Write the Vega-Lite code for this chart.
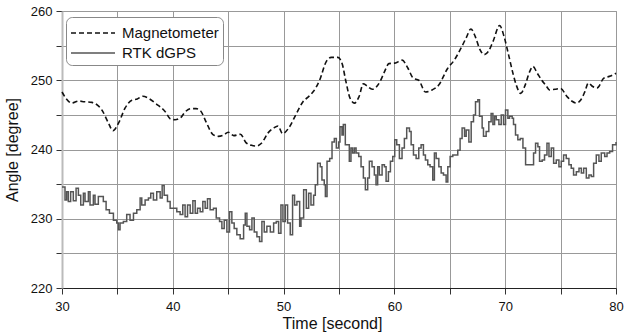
{
  "$schema": "https://vega.github.io/schema/vega-lite/v6.json",
  "width": 554,
  "height": 277,
  "autosize": "none",
  "padding": {"left": 62, "top": 11, "right": 8, "bottom": 48},
  "background": "white",
  "config": {
    "font": "Liberation Sans",
    "view": {"stroke": "#999", "strokeWidth": 1},
    "axis": {
      "gridColor": "#999", "gridWidth": 1, "gridOpacity": 1,
      "tickColor": "#333", "tickSize": 6,
      "labelFont": "Liberation Sans", "labelFontSize": 13, "labelColor": "#111",
      "titleFont": "Liberation Sans", "titleFontSize": 16, "titleFontWeight": "normal", "titleColor": "#111"
    }
  },
  "data": {
    "values": [
      {"t":30.0,"angle":248.3,"sensor":"Magnetometer"},
      {"t":30.4,"angle":247.3,"sensor":"Magnetometer"},
      {"t":30.87,"angle":246.7,"sensor":"Magnetometer"},
      {"t":31.5,"angle":247.0,"sensor":"Magnetometer"},
      {"t":32.0,"angle":246.9,"sensor":"Magnetometer"},
      {"t":32.7,"angle":246.8,"sensor":"Magnetometer"},
      {"t":33.2,"angle":246.4,"sensor":"Magnetometer"},
      {"t":33.6,"angle":245.7,"sensor":"Magnetometer"},
      {"t":34.2,"angle":243.8,"sensor":"Magnetometer"},
      {"t":34.6,"angle":242.7,"sensor":"Magnetometer"},
      {"t":35.1,"angle":243.8,"sensor":"Magnetometer"},
      {"t":35.7,"angle":246.0,"sensor":"Magnetometer"},
      {"t":36.3,"angle":247.1,"sensor":"Magnetometer"},
      {"t":36.8,"angle":247.3,"sensor":"Magnetometer"},
      {"t":37.3,"angle":247.7,"sensor":"Magnetometer"},
      {"t":37.8,"angle":247.4,"sensor":"Magnetometer"},
      {"t":38.5,"angle":246.6,"sensor":"Magnetometer"},
      {"t":39.3,"angle":245.5,"sensor":"Magnetometer"},
      {"t":39.8,"angle":244.4,"sensor":"Magnetometer"},
      {"t":40.2,"angle":244.3,"sensor":"Magnetometer"},
      {"t":40.7,"angle":244.6,"sensor":"Magnetometer"},
      {"t":41.1,"angle":245.4,"sensor":"Magnetometer"},
      {"t":41.6,"angle":245.9,"sensor":"Magnetometer"},
      {"t":42.1,"angle":245.9,"sensor":"Magnetometer"},
      {"t":42.5,"angle":245.6,"sensor":"Magnetometer"},
      {"t":43.0,"angle":244.0,"sensor":"Magnetometer"},
      {"t":43.6,"angle":242.2,"sensor":"Magnetometer"},
      {"t":44.1,"angle":241.9,"sensor":"Magnetometer"},
      {"t":44.6,"angle":242.1,"sensor":"Magnetometer"},
      {"t":45.0,"angle":242.5,"sensor":"Magnetometer"},
      {"t":45.5,"angle":242.0,"sensor":"Magnetometer"},
      {"t":46.1,"angle":242.2,"sensor":"Magnetometer"},
      {"t":46.6,"angle":241.0,"sensor":"Magnetometer"},
      {"t":47.1,"angle":240.6,"sensor":"Magnetometer"},
      {"t":47.5,"angle":240.5,"sensor":"Magnetometer"},
      {"t":48.0,"angle":240.9,"sensor":"Magnetometer"},
      {"t":48.6,"angle":242.4,"sensor":"Magnetometer"},
      {"t":49.1,"angle":243.1,"sensor":"Magnetometer"},
      {"t":49.5,"angle":243.4,"sensor":"Magnetometer"},
      {"t":49.9,"angle":242.3,"sensor":"Magnetometer"},
      {"t":50.5,"angle":243.2,"sensor":"Magnetometer"},
      {"t":51.1,"angle":245.0,"sensor":"Magnetometer"},
      {"t":51.75,"angle":246.9,"sensor":"Magnetometer"},
      {"t":52.3,"angle":247.7,"sensor":"Magnetometer"},
      {"t":52.7,"angle":248.4,"sensor":"Magnetometer"},
      {"t":53.25,"angle":250.0,"sensor":"Magnetometer"},
      {"t":53.85,"angle":252.7,"sensor":"Magnetometer"},
      {"t":54.3,"angle":253.3,"sensor":"Magnetometer"},
      {"t":54.9,"angle":253.3,"sensor":"Magnetometer"},
      {"t":55.3,"angle":252.3,"sensor":"Magnetometer"},
      {"t":55.6,"angle":250.0,"sensor":"Magnetometer"},
      {"t":56.0,"angle":247.4,"sensor":"Magnetometer"},
      {"t":56.4,"angle":246.7,"sensor":"Magnetometer"},
      {"t":56.8,"angle":247.6,"sensor":"Magnetometer"},
      {"t":57.2,"angle":249.5,"sensor":"Magnetometer"},
      {"t":57.5,"angle":249.2,"sensor":"Magnetometer"},
      {"t":58.0,"angle":248.7,"sensor":"Magnetometer"},
      {"t":58.7,"angle":249.8,"sensor":"Magnetometer"},
      {"t":59.1,"angle":251.2,"sensor":"Magnetometer"},
      {"t":59.5,"angle":252.4,"sensor":"Magnetometer"},
      {"t":60.1,"angle":252.5,"sensor":"Magnetometer"},
      {"t":60.7,"angle":252.9,"sensor":"Magnetometer"},
      {"t":61.2,"angle":251.8,"sensor":"Magnetometer"},
      {"t":61.7,"angle":250.3,"sensor":"Magnetometer"},
      {"t":62.2,"angle":250.0,"sensor":"Magnetometer"},
      {"t":62.8,"angle":248.3,"sensor":"Magnetometer"},
      {"t":63.4,"angle":248.6,"sensor":"Magnetometer"},
      {"t":64.0,"angle":249.3,"sensor":"Magnetometer"},
      {"t":64.8,"angle":251.7,"sensor":"Magnetometer"},
      {"t":65.4,"angle":252.9,"sensor":"Magnetometer"},
      {"t":66.0,"angle":254.6,"sensor":"Magnetometer"},
      {"t":66.5,"angle":256.2,"sensor":"Magnetometer"},
      {"t":66.9,"angle":257.4,"sensor":"Magnetometer"},
      {"t":67.3,"angle":256.3,"sensor":"Magnetometer"},
      {"t":67.7,"angle":254.5,"sensor":"Magnetometer"},
      {"t":68.1,"angle":253.7,"sensor":"Magnetometer"},
      {"t":68.5,"angle":254.2,"sensor":"Magnetometer"},
      {"t":68.9,"angle":255.6,"sensor":"Magnetometer"},
      {"t":69.5,"angle":257.9,"sensor":"Magnetometer"},
      {"t":69.9,"angle":256.3,"sensor":"Magnetometer"},
      {"t":70.3,"angle":253.7,"sensor":"Magnetometer"},
      {"t":70.7,"angle":251.0,"sensor":"Magnetometer"},
      {"t":71.0,"angle":249.3,"sensor":"Magnetometer"},
      {"t":71.4,"angle":248.1,"sensor":"Magnetometer"},
      {"t":71.8,"angle":249.3,"sensor":"Magnetometer"},
      {"t":72.2,"angle":251.2,"sensor":"Magnetometer"},
      {"t":72.5,"angle":252.0,"sensor":"Magnetometer"},
      {"t":72.9,"angle":251.0,"sensor":"Magnetometer"},
      {"t":73.3,"angle":250.0,"sensor":"Magnetometer"},
      {"t":73.7,"angle":249.2,"sensor":"Magnetometer"},
      {"t":74.0,"angle":248.6,"sensor":"Magnetometer"},
      {"t":74.5,"angle":248.7,"sensor":"Magnetometer"},
      {"t":75.0,"angle":248.8,"sensor":"Magnetometer"},
      {"t":75.6,"angle":247.6,"sensor":"Magnetometer"},
      {"t":76.0,"angle":247.0,"sensor":"Magnetometer"},
      {"t":76.4,"angle":246.7,"sensor":"Magnetometer"},
      {"t":76.8,"angle":247.1,"sensor":"Magnetometer"},
      {"t":77.2,"angle":248.4,"sensor":"Magnetometer"},
      {"t":77.5,"angle":249.6,"sensor":"Magnetometer"},
      {"t":77.9,"angle":249.1,"sensor":"Magnetometer"},
      {"t":78.3,"angle":248.9,"sensor":"Magnetometer"},
      {"t":78.9,"angle":250.3,"sensor":"Magnetometer"},
      {"t":79.5,"angle":250.6,"sensor":"Magnetometer"},
      {"t":80.0,"angle":251.0,"sensor":"Magnetometer"},
      {"t":30.0,"angle":234.6,"sensor":"RTK dGPS"},
      {"t":30.27,"angle":232.7,"sensor":"RTK dGPS"},
      {"t":30.42,"angle":233.9,"sensor":"RTK dGPS"},
      {"t":30.57,"angle":232.5,"sensor":"RTK dGPS"},
      {"t":30.78,"angle":233.9,"sensor":"RTK dGPS"},
      {"t":31.02,"angle":232.6,"sensor":"RTK dGPS"},
      {"t":31.27,"angle":234.4,"sensor":"RTK dGPS"},
      {"t":31.48,"angle":233.4,"sensor":"RTK dGPS"},
      {"t":31.69,"angle":232.0,"sensor":"RTK dGPS"},
      {"t":31.93,"angle":233.7,"sensor":"RTK dGPS"},
      {"t":32.08,"angle":232.5,"sensor":"RTK dGPS"},
      {"t":32.38,"angle":233.9,"sensor":"RTK dGPS"},
      {"t":32.53,"angle":232.0,"sensor":"RTK dGPS"},
      {"t":32.83,"angle":233.4,"sensor":"RTK dGPS"},
      {"t":32.98,"angle":232.1,"sensor":"RTK dGPS"},
      {"t":33.28,"angle":233.2,"sensor":"RTK dGPS"},
      {"t":33.58,"angle":233.2,"sensor":"RTK dGPS"},
      {"t":33.73,"angle":232.5,"sensor":"RTK dGPS"},
      {"t":33.98,"angle":231.3,"sensor":"RTK dGPS"},
      {"t":34.28,"angle":230.8,"sensor":"RTK dGPS"},
      {"t":34.64,"angle":229.8,"sensor":"RTK dGPS"},
      {"t":34.94,"angle":229.4,"sensor":"RTK dGPS"},
      {"t":35.09,"angle":228.4,"sensor":"RTK dGPS"},
      {"t":35.24,"angle":229.4,"sensor":"RTK dGPS"},
      {"t":35.54,"angle":229.6,"sensor":"RTK dGPS"},
      {"t":35.84,"angle":230.6,"sensor":"RTK dGPS"},
      {"t":36.14,"angle":229.8,"sensor":"RTK dGPS"},
      {"t":36.45,"angle":230.8,"sensor":"RTK dGPS"},
      {"t":36.75,"angle":231.3,"sensor":"RTK dGPS"},
      {"t":37.05,"angle":233.0,"sensor":"RTK dGPS"},
      {"t":37.2,"angle":232.0,"sensor":"RTK dGPS"},
      {"t":37.5,"angle":232.7,"sensor":"RTK dGPS"},
      {"t":37.8,"angle":233.0,"sensor":"RTK dGPS"},
      {"t":38.01,"angle":233.7,"sensor":"RTK dGPS"},
      {"t":38.25,"angle":232.7,"sensor":"RTK dGPS"},
      {"t":38.55,"angle":233.9,"sensor":"RTK dGPS"},
      {"t":38.86,"angle":233.0,"sensor":"RTK dGPS"},
      {"t":39.04,"angle":234.8,"sensor":"RTK dGPS"},
      {"t":39.22,"angle":233.4,"sensor":"RTK dGPS"},
      {"t":39.52,"angle":232.5,"sensor":"RTK dGPS"},
      {"t":39.76,"angle":231.5,"sensor":"RTK dGPS"},
      {"t":40.12,"angle":231.5,"sensor":"RTK dGPS"},
      {"t":40.36,"angle":231.0,"sensor":"RTK dGPS"},
      {"t":40.66,"angle":230.6,"sensor":"RTK dGPS"},
      {"t":40.9,"angle":232.0,"sensor":"RTK dGPS"},
      {"t":41.11,"angle":230.3,"sensor":"RTK dGPS"},
      {"t":41.33,"angle":232.0,"sensor":"RTK dGPS"},
      {"t":41.57,"angle":230.8,"sensor":"RTK dGPS"},
      {"t":41.81,"angle":232.6,"sensor":"RTK dGPS"},
      {"t":42.02,"angle":230.8,"sensor":"RTK dGPS"},
      {"t":42.23,"angle":231.5,"sensor":"RTK dGPS"},
      {"t":42.47,"angle":231.0,"sensor":"RTK dGPS"},
      {"t":42.71,"angle":232.5,"sensor":"RTK dGPS"},
      {"t":42.92,"angle":231.5,"sensor":"RTK dGPS"},
      {"t":43.13,"angle":232.9,"sensor":"RTK dGPS"},
      {"t":43.37,"angle":231.3,"sensor":"RTK dGPS"},
      {"t":43.67,"angle":231.5,"sensor":"RTK dGPS"},
      {"t":43.92,"angle":230.1,"sensor":"RTK dGPS"},
      {"t":44.22,"angle":229.6,"sensor":"RTK dGPS"},
      {"t":44.43,"angle":228.6,"sensor":"RTK dGPS"},
      {"t":44.64,"angle":229.8,"sensor":"RTK dGPS"},
      {"t":44.88,"angle":228.1,"sensor":"RTK dGPS"},
      {"t":45.12,"angle":231.0,"sensor":"RTK dGPS"},
      {"t":45.33,"angle":229.4,"sensor":"RTK dGPS"},
      {"t":45.54,"angle":228.6,"sensor":"RTK dGPS"},
      {"t":45.78,"angle":227.7,"sensor":"RTK dGPS"},
      {"t":46.08,"angle":227.1,"sensor":"RTK dGPS"},
      {"t":46.39,"angle":229.1,"sensor":"RTK dGPS"},
      {"t":46.54,"angle":230.8,"sensor":"RTK dGPS"},
      {"t":46.69,"angle":228.9,"sensor":"RTK dGPS"},
      {"t":46.93,"angle":228.4,"sensor":"RTK dGPS"},
      {"t":47.14,"angle":230.1,"sensor":"RTK dGPS"},
      {"t":47.35,"angle":228.1,"sensor":"RTK dGPS"},
      {"t":47.59,"angle":227.4,"sensor":"RTK dGPS"},
      {"t":47.83,"angle":226.7,"sensor":"RTK dGPS"},
      {"t":48.04,"angle":229.6,"sensor":"RTK dGPS"},
      {"t":48.25,"angle":228.1,"sensor":"RTK dGPS"},
      {"t":48.49,"angle":228.9,"sensor":"RTK dGPS"},
      {"t":48.8,"angle":228.1,"sensor":"RTK dGPS"},
      {"t":49.1,"angle":229.4,"sensor":"RTK dGPS"},
      {"t":49.34,"angle":229.6,"sensor":"RTK dGPS"},
      {"t":49.55,"angle":227.9,"sensor":"RTK dGPS"},
      {"t":49.76,"angle":232.0,"sensor":"RTK dGPS"},
      {"t":49.94,"angle":229.6,"sensor":"RTK dGPS"},
      {"t":50.15,"angle":232.0,"sensor":"RTK dGPS"},
      {"t":50.36,"angle":229.4,"sensor":"RTK dGPS"},
      {"t":50.6,"angle":227.7,"sensor":"RTK dGPS"},
      {"t":50.81,"angle":233.4,"sensor":"RTK dGPS"},
      {"t":50.99,"angle":232.0,"sensor":"RTK dGPS"},
      {"t":51.2,"angle":232.5,"sensor":"RTK dGPS"},
      {"t":51.45,"angle":228.9,"sensor":"RTK dGPS"},
      {"t":51.57,"angle":230.1,"sensor":"RTK dGPS"},
      {"t":51.81,"angle":234.2,"sensor":"RTK dGPS"},
      {"t":52.05,"angle":231.5,"sensor":"RTK dGPS"},
      {"t":52.26,"angle":233.7,"sensor":"RTK dGPS"},
      {"t":52.47,"angle":232.0,"sensor":"RTK dGPS"},
      {"t":52.71,"angle":233.4,"sensor":"RTK dGPS"},
      {"t":52.86,"angle":234.9,"sensor":"RTK dGPS"},
      {"t":53.07,"angle":238.0,"sensor":"RTK dGPS"},
      {"t":53.31,"angle":237.5,"sensor":"RTK dGPS"},
      {"t":53.46,"angle":235.6,"sensor":"RTK dGPS"},
      {"t":53.67,"angle":234.9,"sensor":"RTK dGPS"},
      {"t":53.77,"angle":233.2,"sensor":"RTK dGPS"},
      {"t":53.92,"angle":238.3,"sensor":"RTK dGPS"},
      {"t":54.16,"angle":238.7,"sensor":"RTK dGPS"},
      {"t":54.37,"angle":241.1,"sensor":"RTK dGPS"},
      {"t":54.58,"angle":241.6,"sensor":"RTK dGPS"},
      {"t":54.76,"angle":240.2,"sensor":"RTK dGPS"},
      {"t":54.97,"angle":241.1,"sensor":"RTK dGPS"},
      {"t":55.09,"angle":243.3,"sensor":"RTK dGPS"},
      {"t":55.27,"angle":242.1,"sensor":"RTK dGPS"},
      {"t":55.39,"angle":243.6,"sensor":"RTK dGPS"},
      {"t":55.57,"angle":240.7,"sensor":"RTK dGPS"},
      {"t":55.78,"angle":240.7,"sensor":"RTK dGPS"},
      {"t":55.93,"angle":238.3,"sensor":"RTK dGPS"},
      {"t":56.08,"angle":240.2,"sensor":"RTK dGPS"},
      {"t":56.23,"angle":239.5,"sensor":"RTK dGPS"},
      {"t":56.39,"angle":240.2,"sensor":"RTK dGPS"},
      {"t":56.54,"angle":239.5,"sensor":"RTK dGPS"},
      {"t":56.78,"angle":239.0,"sensor":"RTK dGPS"},
      {"t":56.99,"angle":237.5,"sensor":"RTK dGPS"},
      {"t":57.2,"angle":235.9,"sensor":"RTK dGPS"},
      {"t":57.38,"angle":234.2,"sensor":"RTK dGPS"},
      {"t":57.59,"angle":235.9,"sensor":"RTK dGPS"},
      {"t":57.74,"angle":238.3,"sensor":"RTK dGPS"},
      {"t":57.98,"angle":237.5,"sensor":"RTK dGPS"},
      {"t":58.19,"angle":236.3,"sensor":"RTK dGPS"},
      {"t":58.34,"angle":234.9,"sensor":"RTK dGPS"},
      {"t":58.49,"angle":237.5,"sensor":"RTK dGPS"},
      {"t":58.64,"angle":236.3,"sensor":"RTK dGPS"},
      {"t":58.89,"angle":237.8,"sensor":"RTK dGPS"},
      {"t":59.1,"angle":237.5,"sensor":"RTK dGPS"},
      {"t":59.25,"angle":235.4,"sensor":"RTK dGPS"},
      {"t":59.46,"angle":236.8,"sensor":"RTK dGPS"},
      {"t":59.64,"angle":238.3,"sensor":"RTK dGPS"},
      {"t":59.85,"angle":239.0,"sensor":"RTK dGPS"},
      {"t":60.03,"angle":241.4,"sensor":"RTK dGPS"},
      {"t":60.21,"angle":240.7,"sensor":"RTK dGPS"},
      {"t":60.45,"angle":238.7,"sensor":"RTK dGPS"},
      {"t":60.69,"angle":240.2,"sensor":"RTK dGPS"},
      {"t":60.9,"angle":241.6,"sensor":"RTK dGPS"},
      {"t":61.11,"angle":243.1,"sensor":"RTK dGPS"},
      {"t":61.36,"angle":242.6,"sensor":"RTK dGPS"},
      {"t":61.51,"angle":240.7,"sensor":"RTK dGPS"},
      {"t":61.72,"angle":239.2,"sensor":"RTK dGPS"},
      {"t":61.96,"angle":238.7,"sensor":"RTK dGPS"},
      {"t":62.2,"angle":240.2,"sensor":"RTK dGPS"},
      {"t":62.41,"angle":240.7,"sensor":"RTK dGPS"},
      {"t":62.62,"angle":239.2,"sensor":"RTK dGPS"},
      {"t":62.8,"angle":238.5,"sensor":"RTK dGPS"},
      {"t":63.01,"angle":237.8,"sensor":"RTK dGPS"},
      {"t":63.22,"angle":237.5,"sensor":"RTK dGPS"},
      {"t":63.46,"angle":235.6,"sensor":"RTK dGPS"},
      {"t":63.61,"angle":239.5,"sensor":"RTK dGPS"},
      {"t":63.77,"angle":238.7,"sensor":"RTK dGPS"},
      {"t":64.01,"angle":237.5,"sensor":"RTK dGPS"},
      {"t":64.22,"angle":236.6,"sensor":"RTK dGPS"},
      {"t":64.43,"angle":236.3,"sensor":"RTK dGPS"},
      {"t":64.67,"angle":235.3,"sensor":"RTK dGPS"},
      {"t":64.82,"angle":237.5,"sensor":"RTK dGPS"},
      {"t":65.03,"angle":239.0,"sensor":"RTK dGPS"},
      {"t":65.27,"angle":239.2,"sensor":"RTK dGPS"},
      {"t":65.51,"angle":239.2,"sensor":"RTK dGPS"},
      {"t":65.72,"angle":239.9,"sensor":"RTK dGPS"},
      {"t":65.93,"angle":241.6,"sensor":"RTK dGPS"},
      {"t":66.11,"angle":243.1,"sensor":"RTK dGPS"},
      {"t":66.33,"angle":241.9,"sensor":"RTK dGPS"},
      {"t":66.48,"angle":242.8,"sensor":"RTK dGPS"},
      {"t":66.72,"angle":241.1,"sensor":"RTK dGPS"},
      {"t":66.93,"angle":244.0,"sensor":"RTK dGPS"},
      {"t":67.14,"angle":245.0,"sensor":"RTK dGPS"},
      {"t":67.32,"angle":246.9,"sensor":"RTK dGPS"},
      {"t":67.53,"angle":247.2,"sensor":"RTK dGPS"},
      {"t":67.68,"angle":244.8,"sensor":"RTK dGPS"},
      {"t":67.92,"angle":243.1,"sensor":"RTK dGPS"},
      {"t":68.04,"angle":241.9,"sensor":"RTK dGPS"},
      {"t":68.28,"angle":242.6,"sensor":"RTK dGPS"},
      {"t":68.52,"angle":244.0,"sensor":"RTK dGPS"},
      {"t":68.73,"angle":245.2,"sensor":"RTK dGPS"},
      {"t":68.89,"angle":243.6,"sensor":"RTK dGPS"},
      {"t":69.04,"angle":244.8,"sensor":"RTK dGPS"},
      {"t":69.19,"angle":244.3,"sensor":"RTK dGPS"},
      {"t":69.43,"angle":243.6,"sensor":"RTK dGPS"},
      {"t":69.64,"angle":245.0,"sensor":"RTK dGPS"},
      {"t":69.85,"angle":243.6,"sensor":"RTK dGPS"},
      {"t":70.03,"angle":245.7,"sensor":"RTK dGPS"},
      {"t":70.24,"angle":244.5,"sensor":"RTK dGPS"},
      {"t":70.39,"angle":244.8,"sensor":"RTK dGPS"},
      {"t":70.63,"angle":244.5,"sensor":"RTK dGPS"},
      {"t":70.75,"angle":243.6,"sensor":"RTK dGPS"},
      {"t":70.93,"angle":242.1,"sensor":"RTK dGPS"},
      {"t":71.14,"angle":241.4,"sensor":"RTK dGPS"},
      {"t":71.36,"angle":241.6,"sensor":"RTK dGPS"},
      {"t":71.6,"angle":240.2,"sensor":"RTK dGPS"},
      {"t":71.84,"angle":237.8,"sensor":"RTK dGPS"},
      {"t":72.05,"angle":237.8,"sensor":"RTK dGPS"},
      {"t":72.35,"angle":237.8,"sensor":"RTK dGPS"},
      {"t":72.56,"angle":239.5,"sensor":"RTK dGPS"},
      {"t":72.74,"angle":240.9,"sensor":"RTK dGPS"},
      {"t":72.95,"angle":240.4,"sensor":"RTK dGPS"},
      {"t":73.1,"angle":238.3,"sensor":"RTK dGPS"},
      {"t":73.34,"angle":238.5,"sensor":"RTK dGPS"},
      {"t":73.55,"angle":239.2,"sensor":"RTK dGPS"},
      {"t":73.77,"angle":240.9,"sensor":"RTK dGPS"},
      {"t":73.95,"angle":239.0,"sensor":"RTK dGPS"},
      {"t":74.16,"angle":240.2,"sensor":"RTK dGPS"},
      {"t":74.37,"angle":238.0,"sensor":"RTK dGPS"},
      {"t":74.61,"angle":238.5,"sensor":"RTK dGPS"},
      {"t":74.85,"angle":237.5,"sensor":"RTK dGPS"},
      {"t":75.06,"angle":238.3,"sensor":"RTK dGPS"},
      {"t":75.27,"angle":239.2,"sensor":"RTK dGPS"},
      {"t":75.51,"angle":238.7,"sensor":"RTK dGPS"},
      {"t":75.75,"angle":237.8,"sensor":"RTK dGPS"},
      {"t":75.96,"angle":237.3,"sensor":"RTK dGPS"},
      {"t":76.17,"angle":236.3,"sensor":"RTK dGPS"},
      {"t":76.42,"angle":236.8,"sensor":"RTK dGPS"},
      {"t":76.66,"angle":237.3,"sensor":"RTK dGPS"},
      {"t":76.87,"angle":236.6,"sensor":"RTK dGPS"},
      {"t":77.08,"angle":237.3,"sensor":"RTK dGPS"},
      {"t":77.32,"angle":235.9,"sensor":"RTK dGPS"},
      {"t":77.56,"angle":236.3,"sensor":"RTK dGPS"},
      {"t":77.77,"angle":236.1,"sensor":"RTK dGPS"},
      {"t":77.98,"angle":238.0,"sensor":"RTK dGPS"},
      {"t":78.22,"angle":239.2,"sensor":"RTK dGPS"},
      {"t":78.46,"angle":238.3,"sensor":"RTK dGPS"},
      {"t":78.67,"angle":239.5,"sensor":"RTK dGPS"},
      {"t":78.98,"angle":239.0,"sensor":"RTK dGPS"},
      {"t":79.19,"angle":239.5,"sensor":"RTK dGPS"},
      {"t":79.43,"angle":239.7,"sensor":"RTK dGPS"},
      {"t":79.69,"angle":240.7,"sensor":"RTK dGPS"},
      {"t":80.0,"angle":241.1,"sensor":"RTK dGPS"}
    ]
  },
  "encoding": {
    "x": {
      "field": "t", "type": "quantitative",
      "scale": {"domain": [30, 80], "nice": false, "zero": false},
      "axis": {
        "title": "Time [second]",
        "values": [30,35,40,45,50,55,60,65,70,75,80],
        "labelExpr": "datum.value % 10 === 0 ? datum.label : ''",
        "domainColor": "#222", "domainWidth": 1.2,
        "labelPadding": 6, "titlePadding": 2, "labelFlush": false,
        "titleX": 270
      }
    },
    "y": {
      "field": "angle", "type": "quantitative",
      "scale": {"domain": [220, 260], "nice": false, "zero": false},
      "axis": {
        "title": "Angle [degree]",
        "values": [220,225,230,235,240,245,250,255,260],
        "labelExpr": "datum.value % 10 === 0 ? datum.label : ''",
        "domainColor": "#bbb", "domainWidth": 2,
        "labelPadding": 4, "titlePadding": 10
      }
    },
    "color": {
      "field": "sensor", "type": "nominal",
      "scale": {"domain": ["Magnetometer", "RTK dGPS"], "range": ["#111111", "#555555"]},
      "legend": {
        "title": null, "orient": "none", "legendX": 4, "legendY": 6,
        "symbolType": "M-1,0H3", "symbolSize": 484, "symbolStrokeWidth": 1.6,
        "symbolFillColor": "transparent",
        "labelFontSize": 15, "labelColor": "#111", "labelFont": "Liberation Sans",
        "strokeColor": "#888", "fillColor": "white", "cornerRadius": 6,
        "padding": 4, "rowPadding": 0, "labelOffset": 28
      }
    },
    "strokeDash": {
      "field": "sensor", "type": "nominal",
      "scale": {"domain": ["Magnetometer", "RTK dGPS"], "range": [[5, 3], [1, 0]]},
      "legend": null
    }
  },
  "layer": [
    {
      "transform": [{"filter": "datum.sensor === 'Magnetometer'"}],
      "mark": {"type": "line", "interpolate": "monotone", "strokeWidth": 1.6}
    },
    {
      "transform": [{"filter": "datum.sensor === 'RTK dGPS'"}],
      "mark": {"type": "line", "interpolate": "step-after", "strokeWidth": 1.5}
    }
  ]
}
